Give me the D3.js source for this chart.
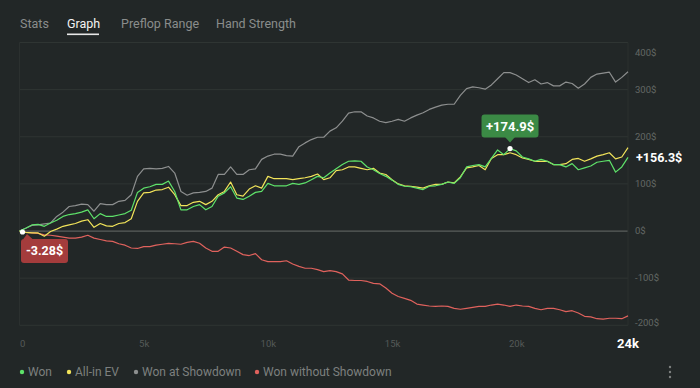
<!DOCTYPE html>
<html>
<head>
<meta charset="utf-8">
<script src="https://cdn.jsdelivr.net/npm/d3@7"></script>
<style>
  html, body { margin: 0; padding: 0; background: #222727; }
  svg { display: block; font-family: Roboto, "Noto Sans", sans-serif; }
</style>
</head>
<body>
<script>
// hands played, one point every 250 hands
const handStep = 250;
const handEnd = 24500;

// cumulative winnings in $
const won = [0, 6, 13, 14, 10, 17, 23, 31, 35, 37, 40, 45, 26, 37, 31, 31, 34, 37, 44, 82,
  91, 94, 99, 99, 106, 84, 45, 45, 52, 56, 45, 52, 74, 81, 94, 70, 67, 74, 82, 84,
  101, 96, 96, 96, 101, 99, 102, 109, 116, 113, 123, 132, 141, 148, 149, 148, 136, 130, 122, 116,
  108, 99, 95, 94, 91, 88, 95, 96, 99, 104, 101, 113, 136, 139, 141, 136, 154, 172, 162, 174.9,
  170, 157, 153, 148, 152, 148, 141, 141, 136, 143, 130, 134, 138, 146, 148, 150, 125, 136, 156.3];
const allInEV = [0, -3, -4, -4, -11, -1, 4, 10, 13, 16, 21, 24, 8, 16, 11, 10, 16, 18, 26, 63,
  81, 82, 87, 88, 93, 77, 54, 54, 61, 63, 56, 63, 77, 84, 104, 77, 74, 89, 96, 91,
  116, 111, 111, 111, 109, 111, 113, 116, 121, 109, 113, 128, 130, 136, 136, 133, 130, 133, 123, 120,
  109, 100, 96, 95, 93, 91, 96, 99, 99, 104, 102, 115, 134, 136, 139, 130, 154, 162, 162, 166,
  162, 155, 152, 148, 148, 148, 141, 141, 143, 152, 154, 148, 153, 159, 162, 166, 153, 157, 177];
const wonShowdown = [0, 6, 12, 13, 15, 17, 31, 40, 52, 54, 57, 56, 42, 58, 56, 56, 63, 65, 77, 116,
  132, 133, 132, 133, 137, 123, 84, 76, 81, 82, 84, 91, 120, 120, 136, 120, 120, 130, 132, 152,
  159, 163, 163, 160, 159, 179, 187, 194, 199, 199, 212, 219, 233, 250, 253, 253, 244, 240, 233, 230,
  233, 237, 233, 240, 246, 251, 258, 263, 267, 269, 269, 288, 302, 306, 304, 301, 310, 323, 336, 336,
  331, 323, 315, 321, 312, 315, 308, 308, 316, 313, 303, 312, 326, 333, 335, 337, 316, 326, 338];
const wonNoShowdown = [0, -3, -4, -5, -8, -9, -11, -13, -15, -15, -13, -9, -15, -18, -21, -22, -27, -30, -36, -37,
  -33, -33, -30, -28, -26, -27, -28, -24, -22, -26, -36, -43, -43, -34, -36, -43, -50, -52, -48, -61,
  -65, -65, -65, -63, -70, -75, -79, -79, -82, -86, -84, -86, -91, -104, -105, -105, -107, -111, -112, -121,
  -132, -139, -143, -147, -155, -157, -159, -160, -159, -160, -164, -166, -164, -162, -160, -160, -157, -155, -157, -160,
  -157, -159, -160, -164, -167, -164, -164, -167, -171, -169, -174, -181, -182, -186, -187, -185, -185, -186, -180];

const seriesNames = ["Won", "All-in EV", "Won at Showdown", "Won without Showdown"];
const seriesColors = ["#5ee26a", "#f2e45a", "#8d8f8f", "#e0625d"];
const tabs = ["Stats", "Graph", "Preflop Range", "Hand Strength"];
const xTicks = [0, 5000, 10000, 15000, 20000];
const xTickLabels = ["0", "5k", "10k", "15k", "20k"];
const yTicks = [400, 300, 200, 100, 0, -100, -200];
const startLabel = "-3.28$";

const W = 700, H = 388;
const svg = d3.select("body").append("svg").attr("width", W).attr("height", H);

// tabs on top
const tabX = [20, 67, 121, 216];
svg.selectAll("text.tab").data(tabs).enter().append("text")
  .attr("class", "tab")
  .attr("x", (d, i) => tabX[i]).attr("y", 28)
  .attr("font-size", 12.5)
  .attr("fill", (d, i) => i === 1 ? "#f2f2f2" : "#8a8d8c")
  .text(d => d);
svg.append("rect").attr("x", 67).attr("y", 33.5).attr("width", 32).attr("height", 1.6)
  .attr("fill", "#e8e8e8");

// scales
const x = d3.scaleLinear().domain([0, handEnd]).range([19.5, 628]);
const y = d3.scaleLinear().domain([-200, 400]).range([325.3, 42.5]);

const g = svg.append("g");

// grid
g.selectAll("line.grid").data(yTicks).enter().append("line")
  .attr("x1", x(0)).attr("x2", x(handEnd))
  .attr("y1", d => y(d)).attr("y2", d => y(d))
  .attr("stroke", d => d === 0 ? "#5a5f5d" : "#2f3533")
  .attr("stroke-width", d => d === 0 ? 1.2 : 1);
[0, handEnd].forEach(v => {
  g.append("line").attr("x1", x(v)).attr("x2", x(v)).attr("y1", y(400)).attr("y2", y(-200))
    .attr("stroke", "#2b302f");
});

// y labels, the outer ones are pulled inside
const yLabelOffset = {400: 10.5, "-200": -3};
g.selectAll("text.ylab").data(yTicks).enter().append("text")
  .attr("x", 635).attr("y", d => y(d) + (yLabelOffset[d] || 0))
  .attr("dy", "0.35em")
  .attr("font-size", 9.5).attr("fill", "#626765")
  .text(d => d + "$");

// x axis
const xAxis = d3.axisBottom(x).tickValues(xTicks).tickSize(0)
  .tickFormat((d, i) => xTickLabels[i]);
const ax = g.append("g").attr("transform", "translate(0,337)").call(xAxis);
ax.select(".domain").remove();
ax.selectAll("text").attr("font-size", 9.5).attr("fill", "#555a58")
  .attr("font-family", "Roboto, sans-serif");
ax.selectAll("text").filter(d => d === 0).attr("text-anchor", "start");
g.append("text").attr("x", x(handEnd)).attr("y", 348)
  .attr("text-anchor", "middle").attr("font-size", 13).attr("font-weight", "bold")
  .attr("fill", "#ffffff").text("24k");

// lines
const line = d3.line().x((d, i) => x(i * handStep)).y(d => y(d));
const drawOrder = [2, 3, 1, 0];
const allSeries = [won, allInEV, wonShowdown, wonNoShowdown];
drawOrder.forEach(k => {
  g.append("path").datum(allSeries[k])
    .attr("fill", "none").attr("stroke", seriesColors[k])
    .attr("stroke-width", 1.2).attr("stroke-linejoin", "round")
    .attr("d", line);
});

// last value of Won
g.append("text").attr("x", 636).attr("y", y(won[won.length - 1]))
  .attr("dy", "0.35em").attr("font-size", 12.5).attr("font-weight", "bold")
  .attr("fill", "#ffffff").text("+" + won[won.length - 1] + "$");

// max marker
const maxI = d3.maxIndex(won);
const mx = x(maxI * handStep), my = y(won[maxI]);
g.append("rect").attr("x", mx - 28.5).attr("y", my - 34).attr("width", 57).attr("height", 23)
  .attr("rx", 3).attr("fill", "#3b8a45");
g.append("path").attr("d", `M${mx - 5},${my - 11.5}L${mx + 5},${my - 11.5}L${mx},${my - 6}Z`)
  .attr("fill", "#3b8a45");
g.append("text").attr("x", mx).attr("y", my - 22.5).attr("dy", "0.35em")
  .attr("text-anchor", "middle").attr("font-size", 13).attr("font-weight", "bold")
  .attr("fill", "#ffffff").text("+" + won[maxI] + "$");
g.append("circle").attr("cx", mx).attr("cy", my).attr("r", 2.6).attr("fill", "#ffffff");

// start marker
const sx = x(0) + 3, sy = y(-2);
g.append("rect").attr("x", 21).attr("y", 239).attr("width", 47).attr("height", 24)
  .attr("rx", 3).attr("fill", "#a43c3c");
g.append("path").attr("d", `M23,239.5L33,239.5L27,234Z`).attr("fill", "#a43c3c");
g.append("text").attr("x", 44.5).attr("y", 251).attr("dy", "0.35em")
  .attr("text-anchor", "middle").attr("font-size", 12.5).attr("font-weight", "bold")
  .attr("fill", "#ffffff").text(startLabel);
g.append("circle").attr("cx", sx).attr("cy", sy).attr("r", 2.6).attr("fill", "#ffffff");

// legend
const legX = [22, 69, 136, 257];
const leg = svg.selectAll("g.leg").data(seriesNames).enter().append("g")
  .attr("transform", (d, i) => `translate(${legX[i]},372)`);
leg.append("circle").attr("r", 2.2).attr("fill", (d, i) => seriesColors[i]);
leg.append("text").attr("x", 6).attr("dy", "0.35em").attr("font-size", 12)
  .attr("fill", "#7d807f").text(d => d);

// menu dots
[-5, 0, 5].forEach(o => {
  svg.append("circle").attr("cx", 670).attr("cy", 372 + o).attr("r", 1.2).attr("fill", "#7d807f");
});
</script>
</body>
</html>
